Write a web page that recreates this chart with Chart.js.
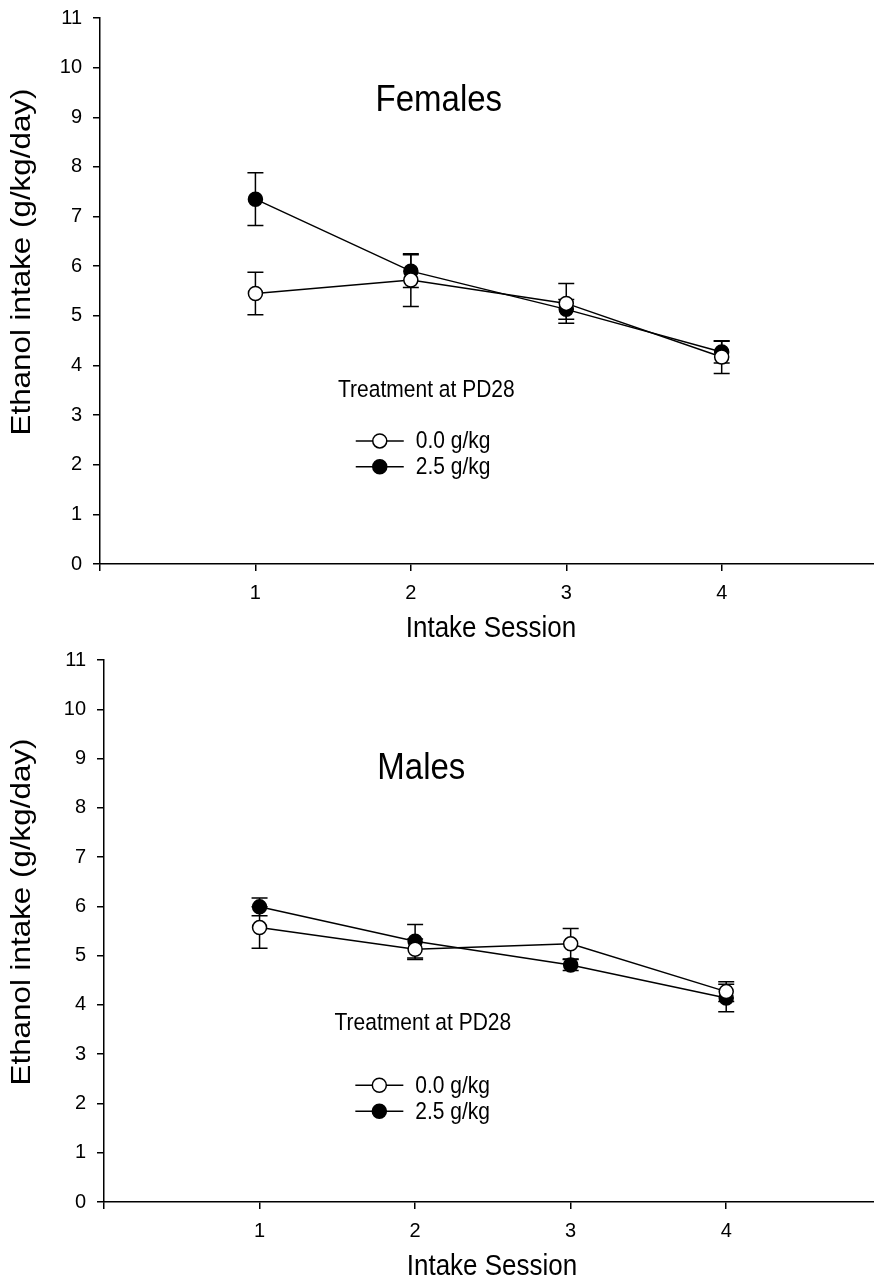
<!DOCTYPE html>
<html>
<head>
<meta charset="utf-8">
<script src="https://cdn.jsdelivr.net/npm/chart.js@4/dist/chart.umd.min.js"></script>
<style>
  html, body { margin: 0; padding: 0; background: #ffffff; overflow: hidden; }
  .panel { position: relative; width: 874px; }
  canvas { display: block; }
</style>
</head>
<body>
<div class="panel" style="height:640px"><canvas id="females"></canvas></div>
<div class="panel" style="height:637px"><canvas id="males"></canvas></div>
<script>
// intake sessions
const sessions = [1, 2, 3, 4];
const xTickLabels = ["", "1", "2", "3", "4"];
const yTicks = [0, 1, 2, 3, 4, 5, 6, 7, 8, 9, 10, 11];

// Females: ethanol intake (g/kg/day), mean and SEM
const femaleVehicle = [5.45, 5.72, 5.25, 4.17];
const femaleVehicleSem = [0.43, 0.53, 0.40, 0.33];
const femaleEthanol = [7.35, 5.90, 5.13, 4.27];
const femaleEthanolSem = [0.53, 0.33, 0.20, 0.22];

// Males
const maleVehicle = [5.57, 5.13, 5.24, 4.27];
const maleVehicleSem = [0.42, 0.21, 0.31, 0.20];
const maleEthanol = [5.99, 5.29, 4.81, 4.14];
const maleEthanolSem = [0.18, 0.34, 0.11, 0.28];

const seriesNames = ["0.0 g/kg", "2.5 g/kg"];
const legendHeader = "Treatment at PD28";
const xTitle = "Intake Session";
const yTitle = "Ethanol intake (g/kg/day)";

const FONT = "'Liberation Sans', Arial, sans-serif";
const STRETCH = 1.12; // the source figure is a little taller than wide

function toPoints(values) {
    return values.map((v, i) => ({ x: sessions[i], y: v }));
}

// text drawn slightly stretched along the vertical of the page
function drawText(ctx, text, x, y, size, align, rotate) {
    ctx.save();
    ctx.translate(x, y);
    if (rotate) {
        ctx.rotate(-Math.PI / 2);
        ctx.scale(STRETCH, 1);
    } else {
        ctx.scale(1, STRETCH);
    }
    ctx.font = size + "px " + FONT;
    ctx.textAlign = align;
    ctx.fillText(text, 0, 0);
    ctx.restore();
}

// vertical SEM bars drawn under the markers
const errorBars = {
    id: "errorBars",
    beforeDatasetsDraw(chart) {
        const ctx = chart.ctx;
        const xs = chart.scales.x;
        const ys = chart.scales.y;
        ctx.save();
        ctx.strokeStyle = "#000";
        ctx.lineWidth = 1.5;
        chart.data.datasets.forEach(ds => {
            ds.data.forEach((p, i) => {
                const e = ds.sem[i];
                const px = xs.getPixelForValue(p.x);
                const top = ys.getPixelForValue(p.y + e);
                const bot = ys.getPixelForValue(p.y - e);
                ctx.beginPath();
                ctx.moveTo(px, top);
                ctx.lineTo(px, bot);
                ctx.moveTo(px - 8, top);
                ctx.lineTo(px + 8, top);
                ctx.moveTo(px - 8, bot);
                ctx.lineTo(px + 8, bot);
                ctx.stroke();
            });
        });
        ctx.restore();
    }
};

// axis titles, panel title and the in-plot legend
const annotations = {
    id: "annotations",
    afterDraw(chart, args, opts) {
        const ctx = chart.ctx;
        const xs = chart.scales.x;
        const ys = chart.scales.y;
        ctx.save();
        ctx.fillStyle = "#000";
        ctx.textBaseline = "alphabetic";

        drawText(ctx, xTitle, opts.xTitleX, ys.bottom + 73, 26, "center", false);
        ctx.textBaseline = "middle";
        drawText(ctx, yTitle, 22, opts.yTitleY, 28, "center", true);
        ctx.textBaseline = "alphabetic";

        drawText(ctx, opts.title, xs.getPixelForValue(opts.titleAt[0]), ys.getPixelForValue(opts.titleAt[1]), 33, "center", false);
        drawText(ctx, legendHeader, xs.getPixelForValue(opts.headerAt[0]), ys.getPixelForValue(opts.headerAt[1]), 21, "center", false);

        chart.data.datasets.forEach((ds, i) => {
            const cy = ys.getPixelForValue(opts.rowsAt[i]);
            const cx = xs.getPixelForValue(opts.rowX);
            ctx.strokeStyle = "#000";
            ctx.lineWidth = 1.5;
            ctx.beginPath();
            ctx.moveTo(cx - 24, cy);
            ctx.lineTo(cx + 24, cy);
            ctx.stroke();
            ctx.beginPath();
            ctx.arc(cx, cy, 7, 0, Math.PI * 2);
            ctx.fillStyle = ds.pointBackgroundColor;
            ctx.fill();
            ctx.stroke();
            ctx.fillStyle = "#000";
            ctx.textBaseline = "middle";
            drawText(ctx, ds.label, cx + 36, cy + 1, 21, "left", false);
        });
        ctx.restore();
    }
};

function makeChart(id, title, vehicle, vehicleSem, ethanol, ethanolSem, box) {
    const common = {
        borderColor: "#000",
        borderWidth: 1.5,
        pointRadius: 7,
        pointHoverRadius: 7,
        pointBorderColor: "#000",
        pointBorderWidth: 1.5,
        tension: 0,
        showLine: true,
        clip: false
    };
    return new Chart(document.getElementById(id), {
        type: "scatter",
        data: {
            datasets: [
                Object.assign({ label: seriesNames[0], data: toPoints(vehicle), sem: vehicleSem,
                    pointBackgroundColor: "#fff", backgroundColor: "#fff" }, common),
                Object.assign({ label: seriesNames[1], data: toPoints(ethanol), sem: ethanolSem,
                    pointBackgroundColor: "#000", backgroundColor: "#000" }, common)
            ]
        },
        options: {
            responsive: true,
            maintainAspectRatio: false,
            animation: false,
            layout: { autoPadding: false, padding: { top: box.top, right: 0, left: 0, bottom: 0 } },
            plugins: {
                legend: { display: false },
                tooltip: { enabled: false },
                annotations: Object.assign({ title: title }, box.notes)
            },
            scales: {
                x: {
                    type: "linear",
                    min: 0,
                    max: box.xMax,
                    afterFit(scale) {
                        scale.height = box.xHeight;
                        scale.paddingRight = 0;
                        scale.paddingLeft = 0;
                    },
                    afterBuildTicks(scale) {
                        scale.ticks = xTickLabels.map((t, i) => ({ value: i }));
                    },
                    grid: { drawOnChartArea: false, drawTicks: true, tickLength: 7, color: "#000", lineWidth: 1.5 },
                    border: { color: "#000", width: 1.5 },
                    ticks: {
                        color: "#000",
                        padding: 10,
                        font: { family: FONT, size: 20 },
                        callback: v => xTickLabels[v]
                    },
                    title: { display: false }
                },
                y: {
                    min: 0,
                    max: 11,
                    afterFit(scale) {
                        scale.width = box.yWidth;
                        scale.paddingTop = 0;
                        scale.paddingBottom = 0;
                    },
                    afterBuildTicks(scale) {
                        scale.ticks = yTicks.map(v => ({ value: v }));
                    },
                    grid: { drawOnChartArea: false, drawTicks: true, tickLength: 7, color: "#000", lineWidth: 1.5 },
                    border: { color: "#000", width: 1.5 },
                    ticks: {
                        color: "#000",
                        padding: 11,
                        font: { family: FONT, size: 20 }
                    },
                    title: { display: false }
                }
            }
        },
        plugins: [errorBars, annotations]
    });
}

makeChart("females", "Females", femaleVehicle, femaleVehicleSem, femaleEthanol, femaleEthanolSem, {
    top: 18, xHeight: 76, yWidth: 100, xMax: 4.98,
    notes: { xTitleX: 491, yTitleY: 262, titleAt: [2.18, 9.13], headerAt: [2.10, 3.37], rowsAt: [2.48, 1.96], rowX: 1.80 }
});

makeChart("males", "Males", maleVehicle, maleVehicleSem, maleEthanol, maleEthanolSem, {
    top: 20, xHeight: 75, yWidth: 104, xMax: 4.95,
    notes: { xTitleX: 492, yTitleY: 272, titleAt: [2.04, 8.58], headerAt: [2.05, 3.49], rowsAt: [2.37, 1.84], rowX: 1.77 }
});
</script>
</body>
</html>
